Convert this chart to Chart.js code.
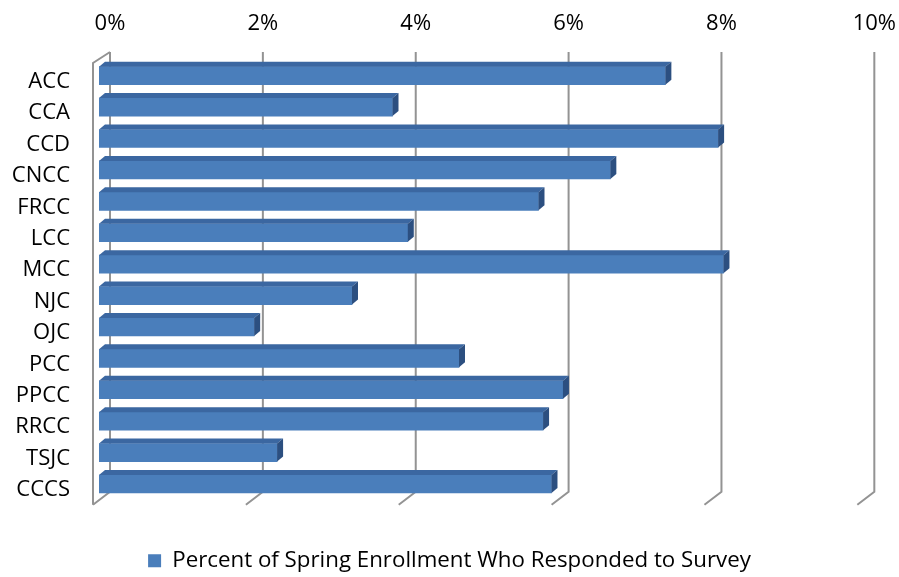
<!DOCTYPE html>
<html>
<head>
<meta charset="utf-8">
<title>Survey response rate</title>
<script src="https://cdn.jsdelivr.net/npm/chart.js@4/dist/chart.umd.min.js"></script>
<style>
  html, body { margin: 0; padding: 0; background: #fff; }
  #wrap { width: 899px; height: 577px; }
</style>
</head>
<body>
<div id="wrap"><canvas id="chart"></canvas></div>
<script>
// --- Data ---
const colleges = ['ACC', 'CCA', 'CCD', 'CNCC', 'FRCC', 'LCC', 'MCC', 'NJC', 'OJC', 'PCC', 'PPCC', 'RRCC', 'TSJC', 'CCCS'];
const responseRate = [7.41, 3.84, 8.10, 6.69, 5.75, 4.04, 8.17, 3.31, 2.03, 4.71, 6.07, 5.81, 2.33, 5.92];
const tickValues = [0, 2, 4, 6, 8, 10];
const tickLabels = ['0%', '2%', '4%', '6%', '8%', '10%'];
const seriesLabel = 'Percent of Spring Enrollment Who Responded to Survey';

// --- Look ---
const frontColor = '#4a7ebb';
const topColor = '#3b67a1';
const sideColor = '#2c4f80';
const gridColor = '#939393';
const DEPTH_X = 6, DEPTH_Y = 5;     // bar depth
const labelFont = { family: '"Open Sans", sans-serif', size: 22 };

// fake 3D: back wall lines, floor and the top/side faces of each bar
const depthPlugin = {
    id: 'depth',
    beforeDatasetsDraw(chart) {
        const { ctx, chartArea: a, scales: { x } } = chart;
        const backTop = a.top - 8, backBottom = a.bottom - 8;
        ctx.save();
        ctx.strokeStyle = gridColor;
        ctx.lineWidth = 2;
        tickValues.forEach(v => {
            const px = x.getPixelForValue(v);
            ctx.beginPath();
            ctx.moveTo(px + 11, backTop);
            ctx.lineTo(px + 11, backBottom);
            ctx.lineTo(px - 6, backBottom + 13);
            ctx.stroke();
        });
        // left wall
        const x0 = x.getPixelForValue(0);
        ctx.beginPath();
        ctx.moveTo(x0 + 11, backTop);
        ctx.lineTo(x0 - 6, backTop + 11);
        ctx.lineTo(x0 - 6, backBottom + 13);
        ctx.stroke();
        ctx.restore();
    },
    afterDatasetsDraw(chart) {
        const { ctx } = chart;
        ctx.save();
        chart.getDatasetMeta(0).data.forEach(bar => {
            const { x, y, base, height } = bar.getProps(['x', 'y', 'base', 'height'], true);
            const top = y - height / 2, bottom = y + height / 2;
            ctx.fillStyle = topColor;
            ctx.beginPath();
            ctx.moveTo(base, top);
            ctx.lineTo(x, top);
            ctx.lineTo(x + DEPTH_X, top - DEPTH_Y);
            ctx.lineTo(base + DEPTH_X, top - DEPTH_Y);
            ctx.closePath();
            ctx.fill();
            ctx.fillStyle = sideColor;
            ctx.beginPath();
            ctx.moveTo(x, top);
            ctx.lineTo(x + DEPTH_X, top - DEPTH_Y);
            ctx.lineTo(x + DEPTH_X, bottom - DEPTH_Y);
            ctx.lineTo(x, bottom);
            ctx.closePath();
            ctx.fill();
        });
        ctx.restore();
    }
};

Chart.defaults.color = '#000';

new Chart(document.getElementById('chart'), {
    type: 'bar',
    data: {
        labels: colleges,
        datasets: [{
            label: seriesLabel,
            data: responseRate,
            backgroundColor: frontColor,
            borderWidth: 0,
            barThickness: 18
        }]
    },
    options: {
        indexAxis: 'y',
        responsive: true,
        maintainAspectRatio: false,
        animation: false,
        layout: { padding: { top: 0, left: 0, right: 0, bottom: -5 } },
        plugins: {
            legend: {
                position: 'bottom',
                labels: { boxWidth: 13, boxHeight: 13, padding: 50, font: { ...labelFont, size: 22.3 }, color: '#000' }
            },
            tooltip: { enabled: false }
        },
        scales: {
            x: {
                position: 'top',
                min: 0,
                max: 10,
                grid: { display: false, drawTicks: false },
                border: { display: false },
                ticks: {
                    stepSize: 2,
                    padding: 14,
                    labelOffset: 11,
                    font: { ...labelFont, lineHeight: '44px' },
                    callback: (v, i) => tickLabels[i]
                },
                afterFit: s => { s.height = 60; }
            },
            y: {
                grid: { display: false, drawTicks: false },
                border: { display: false },
                ticks: { padding: 29, labelOffset: 6, font: labelFont },
                afterFit: s => { s.width = 99; }
            }
        }
    },
    plugins: [depthPlugin]
});
</script>
</body>
</html>
